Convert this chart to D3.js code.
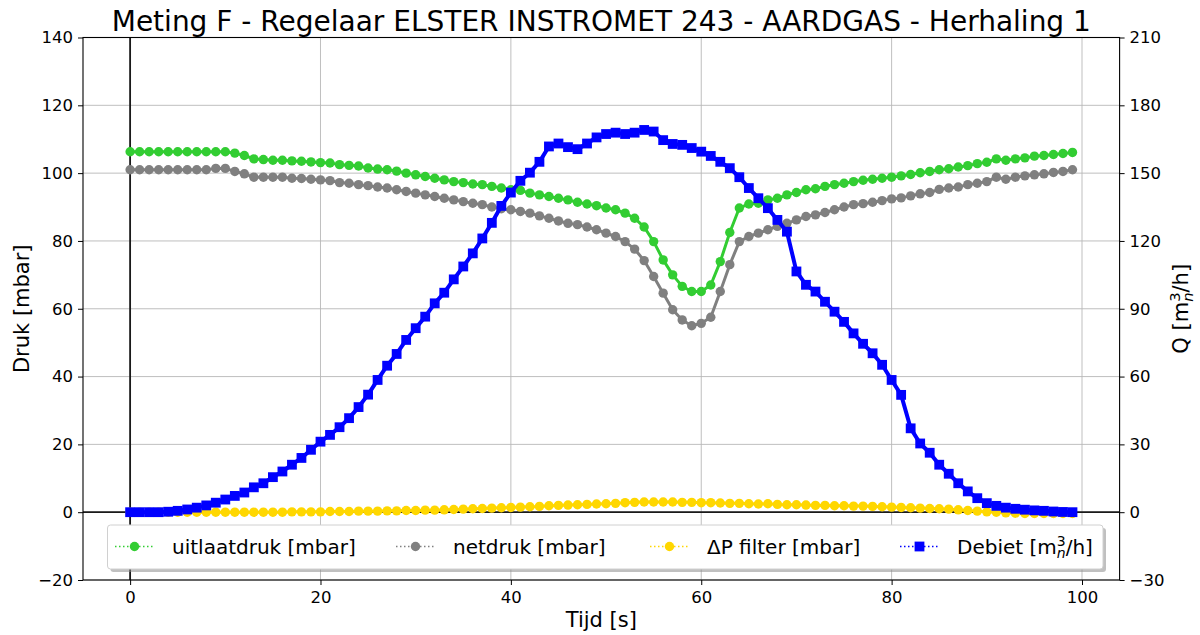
<!DOCTYPE html>
<html>
<head>
<meta charset="utf-8">
<script src="https://cdn.jsdelivr.net/npm/d3@7/dist/d3.min.js"></script>
<style>
  body { margin: 0; background: #fff; }
  text { font-family: "DejaVu Sans", sans-serif; fill: #000; }
</style>
</head>
<body>
<svg id="chart" width="1200" height="635"></svg>
<script>
// Sample times: one measurement per second
const tijd = d3.range(0, 100);

// Outlet pressure [mbar]
const uitlaatdruk = [
  106.3,106.3,106.3,106.3,106.3,106.3,106.3,106.3,106.3,106.3,
  106.3,105.9,105.2,104.2,104.0,103.8,103.8,103.6,103.5,103.3,
  103.1,103.0,102.5,102.3,102.1,101.5,101.2,101.0,100.6,100.0,
  99.5,99.0,98.5,98.0,97.5,97.2,96.8,96.6,96.1,95.6,
  95.1,94.9,94.1,93.6,93.1,92.6,92.1,91.4,90.9,90.4,
  89.7,89.2,88.2,86.7,84.1,79.8,74.4,70.0,66.6,65.1,
  65.1,67.0,73.9,82.5,89.7,90.9,91.1,92.1,92.6,93.6,
  94.3,95.1,95.4,96.1,96.6,97.0,97.5,97.9,98.2,98.5,
  98.8,99.2,99.6,100.1,100.5,101.0,101.3,101.8,102.2,102.8,
  103.2,104.2,103.8,104.2,104.5,105.0,105.2,105.5,105.8,106.1
];

// Network pressure [mbar]
const netdruk = [
  101.0,101.0,101.0,101.0,101.0,101.0,101.0,101.0,101.0,101.4,
  101.4,100.5,99.8,98.8,98.8,98.8,98.8,98.5,98.4,98.2,
  98.0,97.8,97.2,97.0,96.6,96.3,95.9,95.6,95.1,94.6,
  94.1,93.6,93.1,92.6,92.1,91.6,91.1,90.7,90.0,89.5,
  89.2,88.7,88.2,87.4,86.7,85.9,85.2,84.8,84.1,83.3,
  82.3,81.3,79.8,77.6,74.2,69.5,64.6,59.7,56.7,55.0,
  55.7,57.5,65.1,73.0,79.8,81.3,82.3,83.3,84.3,85.2,
  86.2,87.2,87.7,88.4,89.2,90.0,90.7,91.0,91.4,91.9,
  92.4,92.7,93.3,93.9,94.3,95.2,95.6,95.9,96.6,97.0,
  97.5,98.8,98.2,98.8,99.2,99.5,99.8,100.2,100.5,101.0
];

// Pressure drop over the filter [mbar]
const dpFilter = [
  0.0,0.0,0.0,0.0,0.0,0.0,0.0,0.0,0.0,0.0,
  0.0,0.0,0.0,0.0,0.0,0.0,0.0,0.1,0.1,0.1,
  0.1,0.2,0.2,0.2,0.3,0.3,0.3,0.4,0.4,0.5,
  0.5,0.6,0.6,0.7,0.8,0.9,1.0,1.1,1.2,1.3,
  1.4,1.5,1.6,1.7,1.9,2.0,2.1,2.2,2.3,2.4,
  2.5,2.6,2.8,2.9,3.0,3.0,3.0,3.0,2.9,2.9,
  2.8,2.8,2.7,2.6,2.6,2.5,2.4,2.5,2.3,2.2,
  2.2,2.1,2.0,2.0,1.9,1.9,1.8,1.8,1.7,1.6,
  1.5,1.4,1.3,1.2,1.1,1.0,0.9,0.7,0.5,0.3,
  0.1,0.0,-0.2,-0.3,-0.4,-0.4,-0.4,-0.4,-0.4,-0.4
];

// Flow rate [m3n/h]
const debiet = [
  0.0,0.0,0.0,0.0,0.2,0.6,1.2,2.0,3.0,4.2,
  5.6,7.2,8.7,11.0,12.8,15.5,18.0,21.0,24.0,27.6,
  31.2,34.2,37.6,41.6,46.5,52.0,58.5,64.8,70.0,76.2,
  81.4,86.5,92.4,97.1,103.0,108.7,114.5,121.1,128.0,135.5,
  141.4,146.6,150.2,155.0,161.8,163.1,161.5,160.6,163.1,165.8,
  167.3,167.9,167.3,167.9,169.1,168.4,164.6,162.9,162.5,161.1,
  159.5,157.6,155.0,152.2,148.2,143.4,138.9,134.5,129.3,124.1,
  106.5,100.6,97.6,93.1,88.7,84.2,79.1,74.5,70.3,65.2,
  58.5,51.9,37.1,30.4,26.3,21.0,17.0,12.8,9.2,6.2,
  4.0,2.8,2.0,1.5,1.1,0.8,0.6,0.3,0.1,0.0
];

const xTicks = [0, 20, 40, 60, 80, 100];
const yLeftTicks = [-20, 0, 20, 40, 60, 80, 100, 120, 140];
const yRightTicks = [-30, 0, 30, 60, 90, 120, 150, 180, 210];

const svg = d3.select("#chart");
const plot = { left: 83, right: 1119.6, top: 37.5, bottom: 580 };

const x = d3.scaleLinear().domain([-4.95, 103.95]).range([plot.left, plot.right]);
const yL = d3.scaleLinear().domain([-20, 140]).range([plot.bottom, plot.top]);
const yR = d3.scaleLinear().domain([-30, 210]).range([plot.bottom, plot.top]);

const fmt = d => (d < 0 ? "\u2212" + Math.abs(d) : String(d));

// grid
const grid = svg.append("g").attr("stroke", "#b8b8b8").attr("stroke-width", 0.9);
xTicks.forEach(t => grid.append("line")
  .attr("x1", x(t)).attr("x2", x(t)).attr("y1", plot.top).attr("y2", plot.bottom));
yLeftTicks.forEach(t => grid.append("line")
  .attr("x1", plot.left).attr("x2", plot.right).attr("y1", yL(t)).attr("y2", yL(t)));

// reference lines through the origin
svg.append("line").attr("x1", x(0)).attr("x2", x(0)).attr("y1", plot.top).attr("y2", plot.bottom)
  .attr("stroke", "#1a1a1a").attr("stroke-width", 1.8);
svg.append("line").attr("x1", plot.left).attr("x2", plot.right).attr("y1", yL(0)).attr("y2", yL(0))
  .attr("stroke", "#1a1a1a").attr("stroke-width", 1.8);

// axes
const axB = svg.append("g").attr("transform", `translate(0,${plot.bottom})`)
  .call(d3.axisBottom(x).tickValues(xTicks).tickFormat(fmt).tickSize(5).tickPadding(6));
const axL = svg.append("g").attr("transform", `translate(${plot.left},0)`)
  .call(d3.axisLeft(yL).tickValues(yLeftTicks).tickFormat(fmt).tickSize(5).tickPadding(5));
const axR = svg.append("g").attr("transform", `translate(${plot.right},0)`)
  .call(d3.axisRight(yR).tickValues(yRightTicks).tickFormat(fmt).tickSize(5).tickPadding(5));
[axB, axL, axR].forEach(a => {
  a.select(".domain").remove();
  a.selectAll(".tick line").attr("stroke", "#000").attr("stroke-width", 1);
  a.selectAll(".tick text").attr("font-size", 16.5).attr("font-family", "DejaVu Sans").attr("fill", "#222");
});

// series
const series = [
  { name: "uitlaatdruk [mbar]", values: uitlaatdruk, color: "#32cd32", scale: yL, shape: "circle", lw: 3 },
  { name: "netdruk [mbar]", values: netdruk, color: "#808080", scale: yL, shape: "circle", lw: 3 },
  { name: "\u0394P filter [mbar]", values: dpFilter, color: "#ffd700", scale: yL, shape: "circle", lw: 3 },
  { name: "Debiet", values: debiet, color: "#0000ff", scale: yR, shape: "square", lw: 4 }
];

svg.append("clipPath").attr("id", "plotclip").append("rect")
  .attr("x", plot.left).attr("y", plot.top)
  .attr("width", plot.right - plot.left).attr("height", plot.bottom - plot.top);

const dataG = svg.append("g").attr("clip-path", "url(#plotclip)");

function drawMarker(g, shape, cx, cy, color) {
  if (shape === "circle") {
    g.append("circle").attr("cx", cx).attr("cy", cy).attr("r", 4.7).attr("fill", color);
  } else {
    g.append("rect").attr("x", cx - 4.9).attr("y", cy - 4.9).attr("width", 9.8).attr("height", 9.8).attr("fill", color);
  }
}

series.forEach(s => {
  const g = dataG.append("g");
  const line = d3.line().x((d, i) => x(tijd[i])).y(d => s.scale(d));
  g.append("path").datum(s.values).attr("d", line)
    .attr("fill", "none").attr("stroke", s.color).attr("stroke-width", s.lw)
    .attr("stroke-linejoin", "round");
  s.values.forEach((v, i) => drawMarker(g, s.shape, x(tijd[i]), s.scale(v), s.color));
});

// frame
svg.append("rect").attr("x", plot.left).attr("y", plot.top)
  .attr("width", plot.right - plot.left).attr("height", plot.bottom - plot.top)
  .attr("fill", "none").attr("stroke", "#000").attr("stroke-width", 1.1);

// title and axis labels
svg.append("text").attr("x", (plot.left + plot.right) / 2).attr("y", 31)
  .attr("text-anchor", "middle").attr("font-size", 28).attr("fill", "#111")
  .text("Meting F - Regelaar ELSTER INSTROMET 243 - AARDGAS - Herhaling 1");

svg.append("text").attr("x", (plot.left + plot.right) / 2).attr("y", 627)
  .attr("text-anchor", "middle").attr("font-size", 21).text("Tijd [s]");

svg.append("text").attr("transform", `translate(29,${(plot.top + plot.bottom) / 2}) rotate(-90)`)
  .attr("text-anchor", "middle").attr("font-size", 21).text("Druk [mbar]");

function unitText(t, size) {
  t.append("tspan").text("[m");
  t.append("tspan").attr("font-size", size * 0.7).attr("dy", -size * 0.38).text("3");
  t.append("tspan").attr("font-size", size * 0.7).attr("font-style", "italic")
    .attr("dx", -size * 0.7 * 0.636).attr("dy", size * 0.62).text("n");
  t.append("tspan").attr("dy", -size * 0.24).text("/h]");
}

const qLabel = svg.append("text")
  .attr("transform", `translate(1188,${(plot.top + plot.bottom) / 2}) rotate(-90)`)
  .attr("text-anchor", "middle").attr("font-size", 21);
qLabel.append("tspan").text("Q ");
unitText(qLabel, 21);

// legend
const leg = svg.append("g");
const lx = 107.5, ly = 525, lw = 995.5, lh = 44;
leg.append("rect").attr("x", lx + 3).attr("y", ly + 3).attr("width", lw).attr("height", lh)
  .attr("rx", 3).attr("fill", "#8c8c8c").attr("opacity", 0.55);
leg.append("rect").attr("x", lx).attr("y", ly).attr("width", lw).attr("height", lh)
  .attr("rx", 3).attr("fill", "#fff").attr("stroke", "#d0d0d0").attr("stroke-width", 1);

const entryX = [115, 396, 650, 900];
const legY = ly + 21.5;
series.forEach((s, k) => {
  const x0 = entryX[k];
  leg.append("line").attr("x1", x0).attr("x2", x0 + 39).attr("y1", legY).attr("y2", legY)
    .attr("stroke", s.color).attr("stroke-width", 1.5).attr("stroke-dasharray", "1.5,2.5");
  drawMarker(leg, s.shape, x0 + 19.5, legY, s.color);
  const t = leg.append("text").attr("x", x0 + 57).attr("y", legY + 7).attr("font-size", 20).attr("fill", "#222");
  if (k === 3) {
    t.append("tspan").text("Debiet ");
    unitText(t, 20);
  } else {
    t.text(s.name);
  }
});
</script>
</body>
</html>
